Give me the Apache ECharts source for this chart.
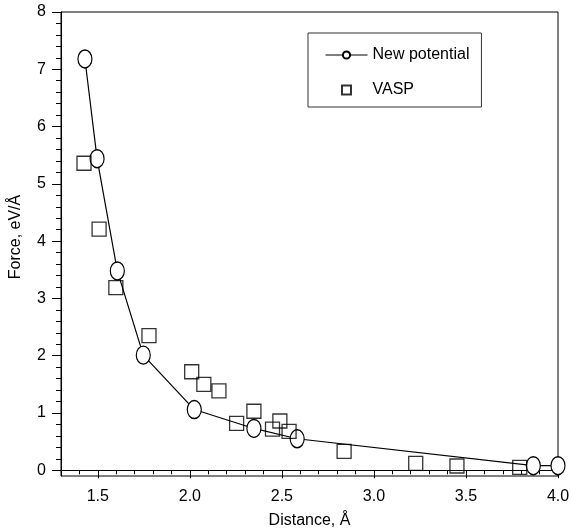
<!DOCTYPE html>
<html><head><meta charset="utf-8">
<script src="https://cdn.jsdelivr.net/npm/echarts@6/dist/echarts.min.js"></script>
<style>html,body{margin:0;padding:0;background:#fff}#c{width:572px;height:530px}</style>
</head><body><div id="c"></div>
<script>
// ---- data ----
const newPotX = [1.43, 1.496, 1.606, 1.747, 2.024, 2.348, 2.583, 3.866, 4.0];
const newPotY = [7.18, 5.44, 3.48, 2.01, 1.06, 0.73, 0.55, 0.08, 0.08];
const vaspX = [1.425, 1.507, 1.598, 1.778, 2.01, 2.076, 2.158, 2.254, 2.348, 2.449, 2.489, 2.539, 2.838, 3.227, 3.451, 3.792];
const vaspY = [5.36, 4.21, 3.19, 2.35, 1.72, 1.50, 1.385, 0.82, 1.03, 0.72, 0.86, 0.68, 0.33, 0.12, 0.075, 0.05];
const xLabels = [1.5, 2.0, 2.5, 3.0, 3.5, 4.0];
const xMinorTicks = [1.3, 1.4, 1.6, 1.7, 1.8, 1.9, 2.1, 2.2, 2.3, 2.4, 2.6, 2.7, 2.8, 2.9, 3.1, 3.2, 3.3, 3.4, 3.6, 3.7, 3.8, 3.9];
const yLabels = [0, 1, 2, 3, 4, 5, 6, 7, 8];
const yMinorTicks = [0.2, 0.4, 0.6, 0.8, 1.2, 1.4, 1.6, 1.8, 2.2, 2.4, 2.6, 2.8, 3.2, 3.4, 3.6, 3.8, 4.2, 4.4, 4.6, 4.8, 5.2, 5.4, 5.6, 5.8, 6.2, 6.4, 6.6, 6.8, 7.2, 7.4, 7.6, 7.8];
const seriesNames = ['New potential', 'VASP'];
const xName = 'Distance, Å';
const yName = 'Force, eV/Å';

const FONT = 'Liberation Sans, Arial, Helvetica, sans-serif';
const ellipse = 'path://M0,0 A7,9 0 1,1 0,18 A7,9 0 1,1 0,0 Z';
const squareIcon = 'path://M0,0 L10,0 L10,10 L0,10 Z';

const chart = echarts.init(document.getElementById('c'), null, {renderer: 'canvas'});
const xCommon = {type: 'value', min: 1.3, max: 4.0, position: 'bottom', splitLine: {show: false}, gridIndex: 0};
const yCommon = {type: 'value', min: -0.1, max: 8, position: 'left', splitLine: {show: false}, gridIndex: 0};

chart.setOption({
  animation: false,
  backgroundColor: '#fff',
  textStyle: {fontFamily: FONT},
  grid: {left: 61, right: 14, top: 12, bottom: 54, show: true, borderColor: '#000', borderWidth: 1, backgroundColor: 'transparent', outerBoundsMode: 'none'},
  legend: {
    data: [{name: seriesNames[0]}, {name: seriesNames[1], icon: squareIcon}],
    orient: 'vertical',
    left: 308, top: 33,
    padding: [14, 12, 9, 17],
    itemWidth: 42, itemHeight: 9, itemGap: 19,
    borderColor: '#333', borderWidth: 1,
    symbolKeepAspect: true,
    lineStyle: {width: 1},
    textStyle: {fontFamily: FONT, fontSize: 16, color: '#000'}
  },
  xAxis: [
    Object.assign({}, xCommon, {
      name: xName, nameLocation: 'middle', nameGap: 37,
      nameTextStyle: {fontFamily: FONT, fontSize: 16, color: '#000'},
      axisLine: {show: true, lineStyle: {color: '#000', width: 1}},
      axisTick: {show: true, inside: false, length: 8, customValues: xLabels, lineStyle: {color: '#000', width: 1}},
      axisLabel: {show: true, customValues: xLabels, margin: 13, fontFamily: FONT, fontSize: 16, color: '#000', formatter: v => Number(v).toFixed(1)}
    }),
    Object.assign({}, xCommon, {
      axisLine: {show: false},
      axisTick: {show: true, inside: false, length: 4, customValues: xMinorTicks, lineStyle: {color: '#000', width: 1}},
      axisLabel: {show: false}
    })
  ],
  yAxis: [
    Object.assign({}, yCommon, {
      name: yName, nameLocation: 'middle', nameGap: 37, nameRotate: 90,
      nameTextStyle: {fontFamily: FONT, fontSize: 16, color: '#000', padding: [0, 0, 0, 14]},
      axisLine: {show: true, lineStyle: {color: '#000', width: 1}},
      axisTick: {show: true, inside: false, length: 9, customValues: yLabels, lineStyle: {color: '#000', width: 1}},
      axisLabel: {show: true, customValues: yLabels, margin: 15, fontFamily: FONT, fontSize: 16, color: '#000'}
    }),
    Object.assign({}, yCommon, {
      axisLine: {show: false},
      axisTick: {show: true, inside: false, length: 5, customValues: yMinorTicks, lineStyle: {color: '#000', width: 1}},
      axisLabel: {show: false}
    })
  ],
  series: [
    {
      name: seriesNames[0], type: 'line', xAxisIndex: 0, yAxisIndex: 0, z: 2,
      data: newPotX.map((x, i) => [x, newPotY[i]]),
      symbol: ellipse, symbolSize: [14, 18], showAllSymbol: true,
      lineStyle: {color: '#000', width: 1.2},
      itemStyle: {color: '#fff', borderColor: '#000', borderWidth: 1.3},
      emphasis: {disabled: true}
    },
    {
      name: seriesNames[1], type: 'scatter', xAxisIndex: 0, yAxisIndex: 0, z: 3,
      data: vaspX.map((x, i) => [x, vaspY[i]]),
      symbol: 'rect', symbolSize: 14,
      itemStyle: {color: 'rgba(255,255,255,0)', borderColor: '#000', borderWidth: 1.3},
      emphasis: {disabled: true}
    }
  ]
});
</script></body></html>
